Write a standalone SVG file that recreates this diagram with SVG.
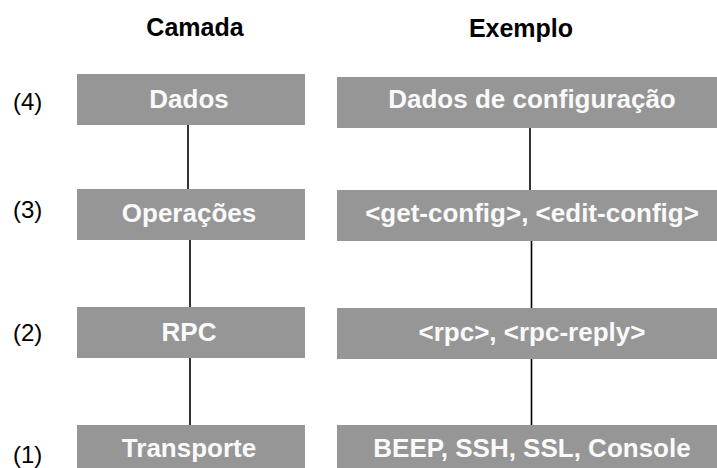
<svg xmlns="http://www.w3.org/2000/svg" width="717" height="468" viewBox="0 0 717 468">
  <style>
    .box { fill: #969696; }
    .lbl { font-family: "Liberation Sans", Arial, sans-serif; font-weight: bold; font-size: 26px; fill: #fafafa; text-anchor: middle; }
    .head { font-family: "Liberation Sans", Arial, sans-serif; font-weight: bold; font-size: 25px; fill: #000000; text-anchor: middle; }
    .num { font-family: "Liberation Sans", Arial, sans-serif; font-size: 24px; fill: #000000; }
    .link { stroke: #000000; stroke-width: 1.6; fill: none; }
  </style>
  <rect width="717" height="468" fill="#ffffff"/>

  <!-- column headings -->
  <text class="head" x="195" y="36">Camada</text>
  <text class="head" x="521" y="37">Exemplo</text>

  <!-- layer numbers -->
  <text class="num" x="13" y="110">(4)</text>
  <text class="num" x="13" y="218">(3)</text>
  <text class="num" x="13" y="341">(2)</text>
  <text class="num" x="13" y="463">(1)</text>

  <!-- connectors -->
  <g id="connectors">
    <line class="link" x1="188" y1="124" x2="188" y2="189"/>
    <line class="link" x1="190" y1="240" x2="190" y2="307"/>
    <line class="link" x1="190" y1="358" x2="190" y2="425"/>
    <line class="link" x1="530" y1="127" x2="530" y2="190"/>
    <line class="link" x1="531.5" y1="240" x2="531.5" y2="308"/>
    <line class="link" x1="531.5" y1="358" x2="531.5" y2="425"/>
  </g>

  <!-- layer column -->
  <g id="camada-dados">
    <rect class="box" x="77" y="74" width="228" height="51"/>
    <text class="lbl" x="189" y="108">Dados</text>
  </g>
  <g id="camada-operacoes">
    <rect class="box" x="77" y="189" width="228" height="51"/>
    <text class="lbl" x="189" y="222">Operações</text>
  </g>
  <g id="camada-rpc">
    <rect class="box" x="77" y="307" width="228" height="51"/>
    <text class="lbl" x="189" y="341">RPC</text>
  </g>
  <g id="camada-transporte">
    <rect class="box" x="77" y="425" width="228" height="43"/>
    <text class="lbl" x="189" y="457">Transporte</text>
  </g>

  <!-- example column -->
  <g id="exemplo-dados">
    <rect class="box" x="337" y="77" width="380" height="51"/>
    <text class="lbl" x="532" y="108">Dados de configuração</text>
  </g>
  <g id="exemplo-operacoes">
    <rect class="box" x="337" y="190" width="380" height="51"/>
    <text class="lbl" x="532" y="222">&lt;get-config&gt;, &lt;edit-config&gt;</text>
  </g>
  <g id="exemplo-rpc">
    <rect class="box" x="337" y="308" width="380" height="51"/>
    <text class="lbl" x="532" y="341">&lt;rpc&gt;, &lt;rpc-reply&gt;</text>
  </g>
  <g id="exemplo-transporte">
    <rect class="box" x="337" y="425" width="380" height="43"/>
    <text class="lbl" x="532" y="457">BEEP, SSH, SSL, Console</text>
  </g>
</svg>
